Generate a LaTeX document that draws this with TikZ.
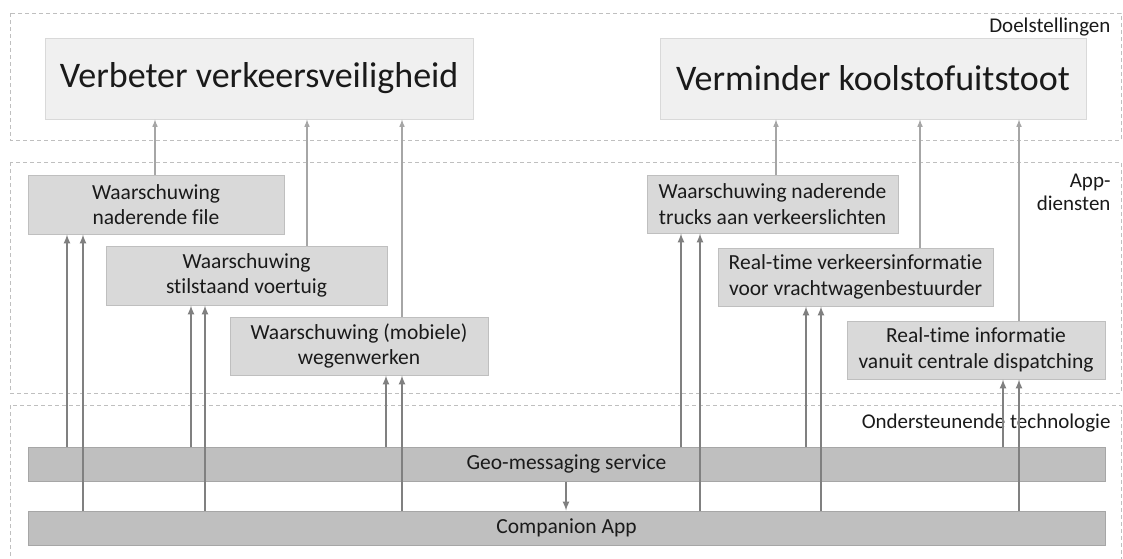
\documentclass[tikz,border=0pt]{standalone}
\usepackage{fontspec}
\setmainfont[Ligatures=NoCommon]{Carlito}
\usepackage{tikz}
\usetikzlibrary{%
  arrows,%
  calc%
}
\definecolor{framegray}{HTML}{BFBFBF}
\definecolor{goalfill}{HTML}{F0F0F0}
\definecolor{goaldraw}{HTML}{D9D9D9}
\definecolor{dienstfill}{HTML}{D9D9D9}
\definecolor{dienstdraw}{HTML}{BFBFBF}
\definecolor{techfill}{HTML}{BFBFBF}
\definecolor{techdraw}{HTML}{A6A6A6}
\definecolor{arrowlight}{HTML}{A6A6A6}
\definecolor{arrowdark}{HTML}{808080}
\definecolor{tekst}{HTML}{1A1A1A}
\tikzset{>=latex}
\tikzset{layer/.style = {draw=framegray, line width=0.8pt, dash pattern=on 4pt off 3pt},%
  goal/.style = {draw=goaldraw, fill=goalfill, line width=1pt, text=tekst,
    font=\fontsize{36}{40}\selectfont},%
  dienst/.style = {draw=dienstdraw, fill=dienstfill, line width=1pt, align=center, text=tekst,
    font=\fontsize{21.5}{25.5}\selectfont, inner sep=0pt},%
  techbar/.style = {draw=techdraw, fill=techfill, line width=1pt, text=tekst,
    font=\fontsize{21.5}{25}\selectfont, inner sep=0pt, minimum width=1077pt, minimum height=34pt},%
  laag/.style = {anchor=east, align=right, text=tekst, font=\fontsize{21}{23}\selectfont},%
  toGoal/.style = {->, draw=arrowlight, line width=1.5pt},%
  toDienst/.style = {->, draw=arrowdark, line width=2pt}}

\begin{document}
\begin{tikzpicture}[x=1pt,y=-1pt]
  \useasboundingbox (0,0) rectangle (1123,558);
  % lagen
  \draw[layer] (10,13) rectangle (1121,140);
  \draw[layer] (10,162) rectangle (1121,393);
  \draw[layer] (10,570) -- (10,405) -- (1121,405) -- (1121,570);
  \node[laag] (doel) at (1114,27) {Doelstellingen};
  \node[laag] (app) at (1114,192) {App-\\diensten};
  \node[laag] (onder) at (1114,423) {Ondersteunende technologie};
  % doelstellingen
  \node[goal, minimum width=428pt, minimum height=81pt] (veilig) at (259,78.5) {Verbeter verkeersveiligheid};
  \node[goal, minimum width=426pt, minimum height=81pt] (kool) at (873,78.5) {Verminder koolstofuitstoot};
  % app-diensten
  \node[dienst, minimum width=256pt, minimum height=59pt] (file) at (156,204.5) {Waarschuwing\\naderende file};
  \node[dienst, minimum width=281pt, minimum height=59pt] (stil) at (246.5,275.5) {Waarschuwing\\stilstaand voertuig};
  \node[dienst, minimum width=258pt, minimum height=58pt] (werk) at (359,346) {Waarschuwing (mobiele)\\wegenwerken};
  \node[dienst, minimum width=251pt, minimum height=58pt] (trucks) at (772.5,204) {Waarschuwing naderende\\trucks aan verkeerslichten};
  \node[dienst, minimum width=275pt, minimum height=58pt] (verkeer) at (855.5,277) {Real-time verkeersinformatie\\voor vrachtwagenbestuurder};
  \node[dienst, minimum width=258pt, minimum height=58pt] (disp) at (976,350) {Real-time informatie\\vanuit centrale dispatching};
  % technologie
  \node[techbar] (geo) at (566.5,464) {Geo-messaging service};
  \node[techbar] (comp) at (566.5,528) {Companion App};
  \draw[toDienst] (566,0|-geo.south) -- (566,0|-comp.north);
  % pijlen naar doelstellingen
  \foreach \xa/\van/\naar in {155/file/veilig, 307/stil/veilig, 402/werk/veilig,
    776/trucks/kool, 920/verkeer/kool, 1019/disp/kool}
    \draw[toGoal] (\xa,0|-\van.north) -- (\xa,0|-\naar.south);
  % pijlen vanuit technologie
  \foreach \xa/\van/\naar in {67/geo/file, 83/comp/file, 191/geo/stil, 205/comp/stil,
    386/geo/werk, 402/comp/werk, 681/geo/trucks, 700/comp/trucks,
    806/geo/verkeer, 821/comp/verkeer, 1003/geo/disp, 1019/comp/disp}
    \draw[toDienst] (\xa,0|-\van.north) -- (\xa,0|-\naar.south);
\end{tikzpicture}
\end{document}
